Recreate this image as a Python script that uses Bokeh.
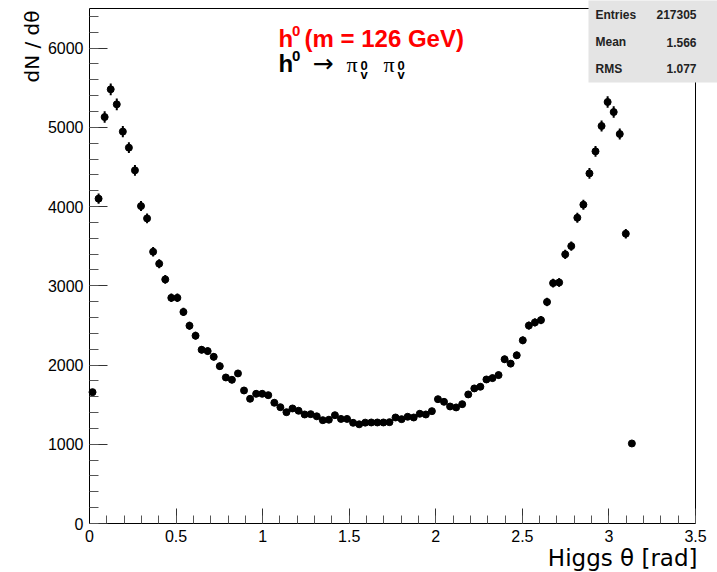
import numpy as np
from bokeh.plotting import figure
from bokeh.models import Label, BoxAnnotation, SingleIntervalTicker, Range1d, ColumnDataSource
from bokeh.embed import file_html
from bokeh.resources import INLINE

# ---------------- data (histogram: 100 bins on [0, 3.5], filled up to pi) ----------------
theta = [0.0175, 0.0525, 0.0875, 0.1225, 0.1575, 0.1925, 0.2275, 0.2625, 0.2975, 0.3325,
         0.3675, 0.4025, 0.4375, 0.4725, 0.5075, 0.5425, 0.5775, 0.6125, 0.6475, 0.6825,
         0.7175, 0.7525, 0.7875, 0.8225, 0.8575, 0.8925, 0.9275, 0.9625, 0.9975, 1.0325,
         1.0675, 1.1025, 1.1375, 1.1725, 1.2075, 1.2425, 1.2775, 1.3125, 1.3475, 1.3825,
         1.4175, 1.4525, 1.4875, 1.5225, 1.5575, 1.5925, 1.6275, 1.6625, 1.6975, 1.7325,
         1.7675, 1.8025, 1.8375, 1.8725, 1.9075, 1.9425, 1.9775, 2.0125, 2.0475, 2.0825,
         2.1175, 2.1525, 2.1875, 2.2225, 2.2575, 2.2925, 2.3275, 2.3625, 2.3975, 2.4325,
         2.4675, 2.5025, 2.5375, 2.5725, 2.6075, 2.6425, 2.6775, 2.7125, 2.7475, 2.7825,
         2.8175, 2.8525, 2.8875, 2.9225, 2.9575, 2.9925, 3.0275, 3.0625, 3.0975, 3.1325]

counts = [1658, 4100, 5130, 5480, 5290, 4946, 4744, 4457, 4006, 3851,
          3430, 3279, 3081, 2848, 2848, 2670, 2496, 2370, 2193, 2176,
          2104, 1986, 1843, 1814, 1894, 1679, 1574, 1637, 1637, 1620,
          1524, 1468, 1405, 1452, 1423, 1376, 1380, 1353, 1304, 1310,
          1367, 1320, 1320, 1271, 1252, 1273, 1275, 1275, 1275, 1279,
          1338, 1317, 1347, 1338, 1385, 1376, 1418, 1569, 1536, 1477,
          1465, 1506, 1629, 1705, 1726, 1818, 1835, 1873, 2073, 2018,
          2123, 2312, 2498, 2538, 2567, 2796, 3034, 3042, 3397, 3501,
          3859, 4024, 4419, 4697, 5017, 5320, 5193, 4916, 3658, 1010]

x_ticks = [0, 0.5, 1, 1.5, 2, 2.5, 3, 3.5]
x_tick_labels = ["0", "0.5", "1", "1.5", "2", "2.5", "3", "3.5"]
y_ticks = [0, 1000, 2000, 3000, 4000, 5000, 6000]
y_tick_labels = ["0", "1000", "2000", "3000", "4000", "5000", "6000"]
y_max = 6500

stats_names = ["Entries", "Mean", "RMS"]
stats_values = ["217305", "1.566", "1.077"]

x_title = "Higgs \u03b8 [rad]"
y_title = "dN / d\u03b8"

# ---------------- layout (pixel box of the histogram frame) ----------------
W, H = 717, 572
FL, FR, FT, FB = 89, 695, 8, 523
X0, X1 = x_ticks[0], x_ticks[-1]
Y0, Y1 = 0.0, float(y_max)


def X(px):
    return X0 + (px - FL) / (FR - FL) * (X1 - X0)


def Y(py):
    return Y0 + (FB - py) / (FB - FT) * (Y1 - Y0)


FONT = "Liberation Sans"
BASE = 0.34  # Bokeh puts the "alphabetic" anchor this fraction of the font size below the baseline

# the plotting frame covers the whole canvas; the axes are drawn at fixed positions
p = figure(width=W, height=H, output_backend="svg", toolbar_location=None,
           x_range=Range1d(X(0), X(W)), y_range=Range1d(Y(H), Y(0)),
           min_border_left=0, min_border_right=0, min_border_top=0, min_border_bottom=0)
p.xgrid.visible = False
p.ygrid.visible = False
p.outline_line_color = None
p.background_fill_color = "white"
p.border_fill_color = "white"

p.xaxis.fixed_location = Y0
p.xaxis.bounds = (X0, X1)
p.yaxis.fixed_location = X0
p.yaxis.bounds = (Y0, Y1)

p.xaxis.ticker = SingleIntervalTicker(interval=0.5, num_minor_ticks=5)
p.xaxis.major_label_overrides = {t: l for t, l in zip(x_ticks, x_tick_labels)}
p.yaxis.ticker = SingleIntervalTicker(interval=1000, num_minor_ticks=5)
p.yaxis.major_label_overrides = {t: l for t, l in zip(y_ticks, y_tick_labels)}

for ax in (p.xaxis[0], p.yaxis[0]):
    ax.axis_line_color = "black"
    ax.major_tick_line_color = "#333333"
    ax.minor_tick_line_color = "#555555"
    ax.major_tick_out = 0
    ax.minor_tick_out = 0
    ax.major_label_text_font = FONT
    ax.major_label_text_font_size = "16px"
    ax.major_label_text_color = "black"
    ax.major_label_standoff = 6

p.xaxis.major_tick_in = 15
p.xaxis.minor_tick_in = 8
p.yaxis.major_tick_in = 18
p.yaxis.minor_tick_in = 9

# frame top and right edges
p.segment(x0=[X0, X1], y0=[Y1, Y0], x1=[X1, X1], y1=[Y1, Y1], line_color="black", line_width=1)

# ---------------- data marks ----------------
cnt = np.array(counts, dtype=float)
err = np.sqrt(cnt)
src = ColumnDataSource(dict(x=theta, y=cnt, lo=cnt - err, hi=cnt + err))
p.segment(x0="x", y0="lo", x1="x", y1="hi", source=src, line_color="black", line_width=2)
p.scatter("x", "y", source=src, size=7, color="black")


def lab(px, py, text, size, color="black", style="normal", align="left", font=FONT, angle=0,
        level="annotation"):
    # (px, py) is the wanted baseline position in canvas pixels
    if angle == 0:
        py = py - BASE * size
    else:
        px = px - BASE * size
    p.add_layout(Label(x=X(px), y=Y(py), x_units="data", y_units="data", text=text,
                       text_font=font, text_font_size=f"{size}px", text_font_style=style,
                       text_color=color, text_align=align, text_baseline="alphabetic",
                       angle=angle, angle_units="deg", level=level))


# ---------------- title lines ----------------
RED = "#ff0000"
lab(278, 46.5, "h", 24, RED, "bold")
lab(291.5, 35.5, "0", 15, RED, "bold")
lab(304, 46.5, "(m = 126 GeV)", 24, RED, "bold")

lab(278, 71.5, "h", 24, "black", "bold")
lab(291.5, 61, "0", 15, "black", "bold")
lab(312, 71.5, "\u2192", 25, "black", "normal", font="DejaVu Sans")
lab(346, 71.5, "\u03c0", 22, "black", "normal", font="Liberation Serif")
lab(360, 69.5, "0", 13, "black", "bold")
lab(360, 78.5, "v", 13, "black", "bold")
lab(383, 71.5, "\u03c0", 22, "black", "normal", font="Liberation Serif")
lab(397, 69.5, "0", 13, "black", "bold")
lab(397, 78.5, "v", 13, "black", "bold")

# ---------------- axis titles ----------------
lab(697, 565, x_title, 23, "black", "normal", align="right", font="DejaVu Sans")
lab(38, 10, y_title, 20, "black", "normal", align="right", angle=90, font="DejaVu Sans")

# ---------------- stats box ----------------
p.add_layout(BoxAnnotation(left=X(588), right=X(W + 5), top=Y(-5), bottom=Y(82),
                           fill_color="#e4e4e4", fill_alpha=1.0, line_color=None,
                           level="overlay"))
rows_y = [18.5, 46, 72.5]
for name, val, ry in zip(stats_names, stats_values, rows_y):
    lab(595, ry, name, 12, "#222222", "bold", level="overlay")
    lab(696, ry, val, 12, "#222222", "bold", align="right", level="overlay")

open("out.html", "w").write(file_html(p, INLINE))
